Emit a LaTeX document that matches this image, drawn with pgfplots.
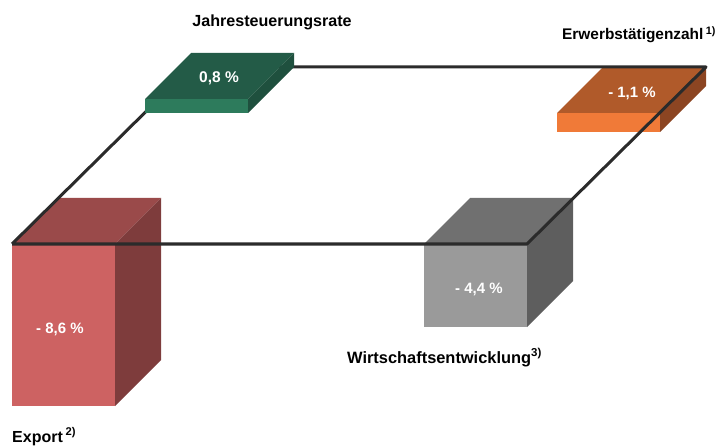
\documentclass[border=0pt]{standalone}
\usepackage{fontspec}
\setmainfont{Liberation Sans}
\usepackage{pgfplots}
\pgfplotsset{compat=1.18}
\definecolor{gtop}{HTML}{235B47}
\definecolor{gfront}{HTML}{2D7B5C}
\definecolor{gside}{HTML}{1F503E}
\definecolor{otop}{HTML}{B05A2A}
\definecolor{ofront}{HTML}{F07A38}
\definecolor{oside}{HTML}{8C4522}
\definecolor{rtop}{HTML}{9A4A4A}
\definecolor{rfront}{HTML}{CD6262}
\definecolor{rside}{HTML}{7E3C3C}
\definecolor{ktop}{HTML}{707070}
\definecolor{kfront}{HTML}{9A9A9A}
\definecolor{kside}{HTML}{5E5E5E}
\definecolor{frame}{HTML}{2B2B2B}
\newcommand{\lab}[1]{\fontsize{#1}{#1}\selectfont\bfseries}
\begin{document}
\begin{tikzpicture}
\begin{axis}[
  scale only axis, width=722pt, height=446pt,
  xmin=0, xmax=722, ymin=0, ymax=446, y dir=reverse,
  hide axis, clip=false,
]
% keep the full canvas as bounding box
\path (rel axis cs:0,0) rectangle (rel axis cs:1,1);
% Export -8,6 % (red, hangs down from the left corner)
\addplot[fill=rtop, draw=none] coordinates {(12,244)(115,244)(161,198)(58,198)};
\addplot[fill=rfront, draw=none] coordinates {(12,244)(115,244)(115,406)(12,406)};
\addplot[fill=rside, draw=none] coordinates {(115,244)(161,198)(161,360)(115,406)};
% Wirtschaftsentwicklung -4,4 % (grey)
\addplot[fill=ktop, draw=none] coordinates {(424,244)(527,244)(573,198)(470,198)};
\addplot[fill=kfront, draw=none] coordinates {(424,244)(527,244)(527,327)(424,327)};
\addplot[fill=kside, draw=none] coordinates {(527,244)(573,198)(573,281)(527,327)};
% Erwerbstaetigenzahl -1,1 % (orange)
\addplot[fill=otop, draw=none] coordinates {(603,67)(706,67)(660,113)(557,113)};
\addplot[fill=ofront, draw=none] coordinates {(557,113)(660,113)(660,132)(557,132)};
\addplot[fill=oside, draw=none] coordinates {(660,113)(706,67)(706,86)(660,132)};
% the square
\addplot[draw=frame, line width=3pt, line join=round] coordinates {(12,244)(527,244)(706,67)(191,67)(12,244)};
% Jahresteuerungsrate 0,8 % (green, stands up)
\addplot[fill=gtop, draw=none] coordinates {(191,53)(294,53)(248,99)(145,99)};
\addplot[fill=gfront, draw=none] coordinates {(145,99)(248,99)(248,113)(145,113)};
\addplot[fill=gside, draw=none] coordinates {(248,99)(294,53)(294,67)(248,113)};
% values
\node[white, font=\lab{15.5}] at (axis cs:219,78) {0,8 \%};
\node[white, font=\lab{15}] at (axis cs:632,93) {- 1,1 \%};
\node[white, font=\lab{15}] at (axis cs:60,329) {- 8,6 \%};
\node[white, font=\lab{15}] at (axis cs:479,289) {- 4,4 \%};
% names
\node[anchor=base, font=\lab{16.1}, inner sep=0pt] at (axis cs:272,27) {Jahresteuerungsrate};
\node[anchor=base west, font=\lab{15.4}, inner sep=0pt] at (axis cs:562,40) {Erwerbstätigenzahl\,\textsuperscript{1)}};
\node[anchor=base west, font=\lab{16}, inner sep=0pt] at (axis cs:12,442) {Export\,\textsuperscript{2)}};
\node[anchor=base west, font=\lab{16.4}, inner sep=0pt] at (axis cs:347,363) {Wirtschaftsentwicklung\textsuperscript{3)}};
\end{axis}
\end{tikzpicture}
\end{document}
